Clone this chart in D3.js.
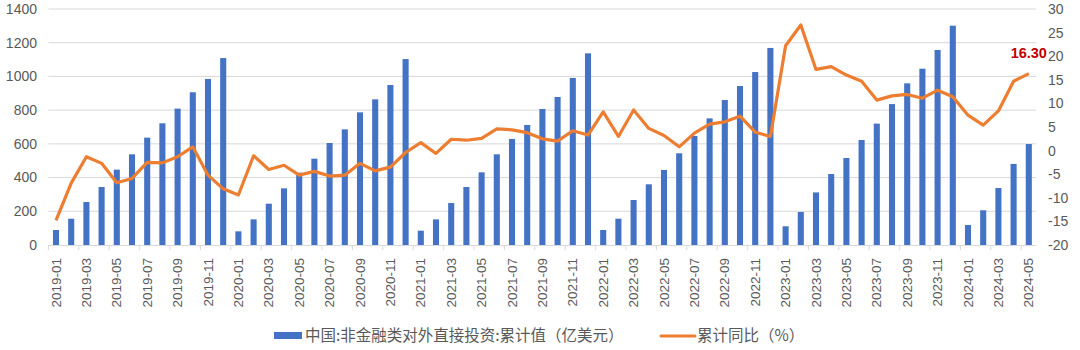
<!DOCTYPE html>
<html><head><meta charset="utf-8">
<script src="https://cdn.jsdelivr.net/npm/d3@7"></script>
<style>
body{margin:0;background:#fff;}
svg{display:block;font-family:"Liberation Sans","Noto Sans CJK SC",sans-serif;}
</style></head>
<body><svg id="c" width="1080" height="350"></svg>
<script>
const months = [];
for (let y = 2019; y <= 2024; y++) for (let m = 1; m <= 12; m++) { if (y === 2024 && m > 5) break; months.push(y + "-" + String(m).padStart(2, "0")); }
const fdiValues = [89,156,255,344,447,538,637,722,809,906,985,1109,
  81,152,245,336,429,512,605,686,787,864,949,1103,
  85,152,249,344,431,538,629,712,807,878,991,1137,
  89,156,267,360,445,544,647,751,860,943,1026,1169,
  111,196,312,421,516,623,720,836,959,1046,1157,1301,
  119,206,338,481,599];
const yoyValues = [-14.8,-6.9,-1.3,-2.7,-6.8,-5.9,-2.5,-2.6,-1.3,0.8,-5.2,-8.1,
  -9.4,-1.1,-4.0,-3.1,-5.2,-4.4,-5.4,-5.2,-2.7,-4.3,-3.5,-0.4,
  1.7,-0.6,2.4,2.2,2.6,4.6,4.4,3.8,2.5,2.0,4.2,3.3,
  8.2,3.0,8.6,4.7,3.2,0.8,3.7,5.6,6.1,7.3,3.9,3.0,
  22.2,26.6,17.2,17.8,16.0,14.7,10.7,11.6,11.9,11.1,12.8,11.4,
  7.5,5.4,8.4,14.7,16.3];
const leftTicks = [0,200,400,600,800,1000,1200,1400];
const rightTicks = [-20,-15,-10,-5,0,5,10,15,20,25,30];
const seriesNames = ["中国:非金融类对外直接投资:累计值（亿美元）", "累计同比（%）"];
const lastLabel = "16.30";

const svg = d3.select("#c");
const plotTop = 9, plotBottom = 245, x0 = 48.4, x1 = 1036.4;
const x = d3.scaleBand().domain(months).range([x0, x1]).paddingInner(0.6).paddingOuter(0.3);
const yL = d3.scaleLinear().domain([0,1400]).range([plotBottom, plotTop]);
const yR = d3.scaleLinear().domain([-20,30]).range([plotBottom, plotTop]);
const step = x.step();

// gridlines
svg.append("g").selectAll("line").data(leftTicks.slice(1)).join("line")
  .attr("x1", x0).attr("x2", x1).attr("y1", d => yL(d)).attr("y2", d => yL(d))
  .attr("stroke", "#d9d9d9").attr("stroke-width", 1);

// left axis labels
svg.append("g").selectAll("text").data(leftTicks).join("text")
  .attr("x", 37).attr("y", d => yL(d)).attr("dy", "0.35em").attr("text-anchor", "end")
  .attr("font-size", 14).attr("fill", "#595959").text(d => d);
// right axis labels
svg.append("g").selectAll("text").data(rightTicks).join("text")
  .attr("x", 1048).attr("y", d => yR(d)).attr("dy", "0.35em").attr("text-anchor", "start")
  .attr("font-size", 14).attr("fill", "#595959").text(d => d);

// bars
svg.append("g").selectAll("rect").data(months).join("rect")
  .attr("x", d => x(d)).attr("width", x.bandwidth())
  .attr("y", (d,i) => yL(fdiValues[i])).attr("height", (d,i) => plotBottom - yL(fdiValues[i]))
  .attr("fill", "#4472C4");

// x axis line + ticks
svg.append("line").attr("x1", x0).attr("x2", x1).attr("y1", plotBottom + 0.5).attr("y2", plotBottom + 0.5)
  .attr("stroke", "#d9d9d9");
const tickMonths = months.filter((d,i) => i % 2 === 0);
svg.append("g").selectAll("line").data(tickMonths).join("line")
  .attr("x1", d => x(d) - step*0.3).attr("x2", d => x(d) - step*0.3)
  .attr("y1", plotBottom).attr("y2", plotBottom + 5).attr("stroke", "#d9d9d9");
svg.append("g").selectAll("text").data(tickMonths).join("text")
  .attr("transform", d => `translate(${x(d) + x.bandwidth()/2 + 4.5},258) rotate(-90)`)
  .attr("text-anchor", "end").attr("font-size", 13.5).attr("fill", "#595959").text(d => d);

// line
const line = d3.line().x((d,i) => x(months[i]) + x.bandwidth()/2).y(d => yR(d));
svg.append("path").datum(yoyValues).attr("d", line).attr("fill", "none")
  .attr("stroke", "#ED7D31").attr("stroke-width", 3.2).attr("stroke-linejoin", "round");

// last label
const li = months.length - 1;
svg.append("text").attr("x", x(months[li]) + x.bandwidth()/2).attr("y", 58)
  .attr("text-anchor", "middle").attr("font-size", 14.5).attr("font-weight", "bold")
  .attr("fill", "#C00000").text(lastLabel);

// legend
const lg = svg.append("g").attr("font-family", "Noto Sans CJK SC").attr("font-size", 15.5).attr("fill", "#595959");
lg.append("rect").attr("x", 274).attr("y", 332).attr("width", 28).attr("height", 7).attr("fill", "#4472C4");
lg.append("text").attr("x", 305).attr("y", 335.5).attr("dy", "0.35em").text(seriesNames[0]);
lg.append("line").attr("x1", 661).attr("x2", 695).attr("y1", 336).attr("y2", 336)
  .attr("stroke", "#ED7D31").attr("stroke-width", 3).attr("stroke-linecap", "round");
lg.append("text").attr("x", 697).attr("y", 335.5).attr("dy", "0.35em").text(seriesNames[1]);
</script></body></html>
